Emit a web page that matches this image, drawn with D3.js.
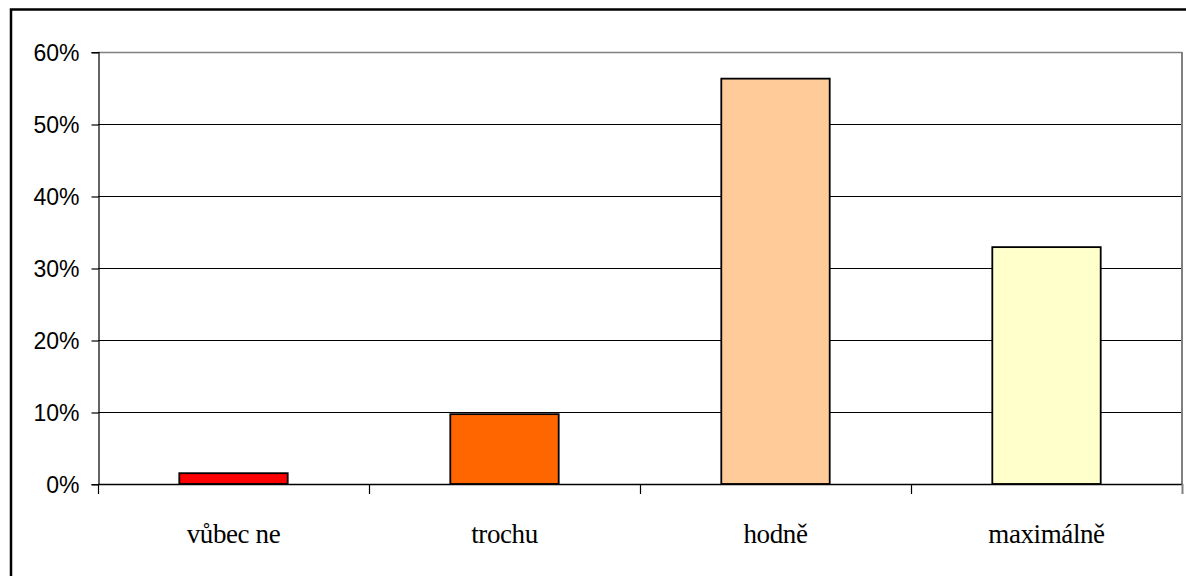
<!DOCTYPE html>
<html>
<head>
<meta charset="utf-8">
<script src="https://cdn.jsdelivr.net/npm/d3@7"></script>
<style>
  html, body { margin: 0; padding: 0; background: #fff; }
  svg { display: block; }
</style>
</head>
<body>
<svg id="chart" width="1186" height="576"></svg>
<script>
// Survey answers and their shares (percent)
const categories = ["vůbec ne", "trochu", "hodně", "maximálně"];
const values = [1.5, 9.7, 56.3, 32.9];
const barColors = ["#FF0000", "#FF6600", "#FFCC99", "#FFFFCC"];
const yTicks = [0, 10, 20, 30, 40, 50, 60];

const svg = d3.select("#chart");
const W = 1186, H = 576;
const plot = { left: 98, right: 1182, top: 52, bottom: 484 };

// Outer chart frame (open to the right and bottom edge of the page)
svg.append("rect")
  .attr("x", 11).attr("y", 9.5)
  .attr("width", W + 20).attr("height", H + 20)
  .attr("fill", "#fff").attr("stroke", "#000").attr("stroke-width", 2.5);

const x = d3.scaleBand().domain(categories).range([plot.left, plot.right]).paddingInner(0).paddingOuter(0);
const y = d3.scaleLinear().domain([0, 60]).range([plot.bottom, plot.top]);

// Horizontal gridlines
svg.append("g").selectAll("line")
  .data(yTicks.filter(t => t > 0 && t < 60))
  .join("line")
  .attr("x1", plot.left).attr("x2", plot.right)
  .attr("y1", d => y(d) + 0.5).attr("y2", d => y(d) + 0.5)
  .attr("stroke", "#000").attr("stroke-width", 1);

// Plot area border: top and right in gray
svg.append("line")
  .attr("x1", plot.left).attr("x2", plot.right)
  .attr("y1", y(60) + 0.5).attr("y2", y(60) + 0.5)
  .attr("stroke", "#808080").attr("stroke-width", 1.5);
svg.append("line")
  .attr("x1", plot.right).attr("x2", plot.right)
  .attr("y1", y(60)).attr("y2", plot.bottom)
  .attr("stroke", "#808080").attr("stroke-width", 2);

// Y axis
const yAxis = d3.axisLeft(y)
  .tickValues(yTicks)
  .tickFormat(d => d + "%")
  .tickSize(7)
  .tickPadding(12);
const gy = svg.append("g")
  .attr("transform", `translate(${plot.left + 0.5},0)`)
  .call(yAxis);
gy.select(".domain").attr("stroke", "#000").attr("stroke-width", 1.2);
gy.selectAll(".tick line").attr("stroke", "#000").attr("stroke-width", 1.2)
  .attr("transform", "translate(0,0.5)");
gy.selectAll(".tick text")
  .attr("font-family", "'Liberation Sans', Arial, sans-serif")
  .attr("font-size", 23)
  .attr("fill", "#000")
  .attr("dy", "0.36em");

// Bars
svg.append("g").selectAll("rect")
  .data(values)
  .join("rect")
  .attr("x", (d, i) => x(categories[i]) + x.bandwidth() * 0.3)
  .attr("width", x.bandwidth() * 0.4)
  .attr("y", d => y(d))
  .attr("height", d => plot.bottom - y(d))
  .attr("fill", (d, i) => barColors[i])
  .attr("stroke", "#000").attr("stroke-width", 1.8);

// X axis (baseline with ticks between categories)
const xTickPos = d3.range(categories.length + 1).map(i => plot.left + i * x.bandwidth());
svg.append("line")
  .attr("x1", plot.left).attr("x2", plot.right)
  .attr("y1", plot.bottom + 0.5).attr("y2", plot.bottom + 0.5)
  .attr("stroke", "#000").attr("stroke-width", 1.5);
svg.append("g").selectAll("line")
  .data(xTickPos)
  .join("line")
  .attr("x1", d => d + 0.5).attr("x2", d => d + 0.5)
  .attr("y1", plot.bottom).attr("y2", plot.bottom + 10)
  .attr("stroke", (d, i) => i === categories.length ? "#808080" : "#000")
  .attr("stroke-width", (d, i) => i === categories.length ? 2 : 1.2);

// Category labels
svg.append("g").selectAll("text")
  .data(categories)
  .join("text")
  .attr("x", d => x(d) + x.bandwidth() / 2)
  .attr("y", 542.5)
  .attr("text-anchor", "middle")
  .attr("font-family", "'Liberation Serif', 'Times New Roman', serif")
  .attr("font-size", 27)
  .attr("letter-spacing", -0.4)
  .attr("fill", "#000")
  .text(d => d);
</script>
</body>
</html>
